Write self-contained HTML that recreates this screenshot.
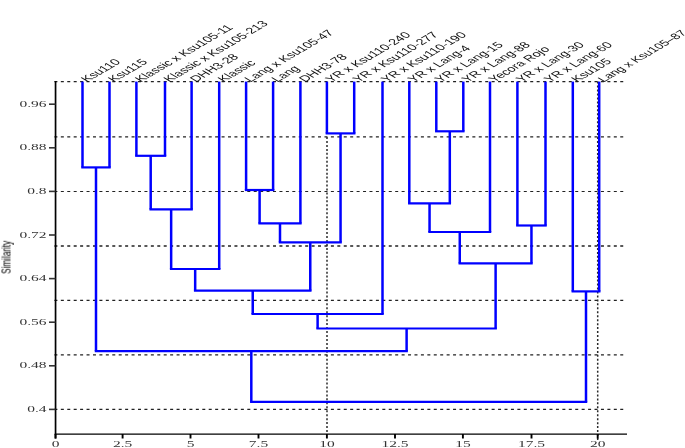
<!DOCTYPE html>
<html><head><meta charset="utf-8"><style>
html,body{margin:0;padding:0;background:#fff;width:685px;height:448px;overflow:hidden}
svg{display:block}
.tx{will-change:opacity;opacity:0.999}
.lb{font-family:"Liberation Sans",sans-serif;font-size:8.6px;fill:#111}
.yt{font-family:"Liberation Serif",serif;font-size:8.6px;fill:#333}
.xt{font-family:"Liberation Serif",serif;font-size:8.6px;fill:#333}
.sim{font-family:"Liberation Sans",sans-serif;font-size:8.2px;fill:#000}
</style></head><body>
<svg width="685" height="448" viewBox="0 0 685 448">
<rect width="685" height="448" fill="#fff"/>
<g stroke="#222" stroke-width="1.2" stroke-dasharray="3 3.43" fill="none">
<line x1="54.4" y1="81.6" x2="624" y2="81.6"/>
<line x1="54.4" y1="136.9" x2="624" y2="136.9"/>
<line x1="54.4" y1="191.5" x2="624" y2="191.5"/>
<line x1="54.4" y1="246.0" x2="624" y2="246.0" stroke-width="1.7"/>
<line x1="54.4" y1="300.4" x2="624" y2="300.4"/>
<line x1="54.4" y1="354.8" x2="624" y2="354.8"/>
<line x1="54.4" y1="409.3" x2="624" y2="409.3"/>
</g>
<g stroke="#2a2a2a" stroke-width="1.5" stroke-dasharray="2 1.96" fill="none">
<line x1="327.0" y1="137" x2="327.0" y2="434"/>
<line x1="597.7" y1="81.6" x2="597.7" y2="440"/>
</g>
<g stroke="#000" fill="none">
<line x1="55.55" y1="81" x2="55.55" y2="438.5" stroke-width="1.7"/>
<line x1="54.7" y1="434.2" x2="627" y2="434.2" stroke-width="1.3"/>
</g>
<g stroke="#333" stroke-width="1.6">
<line x1="49" y1="104.20" x2="55.5" y2="104.20"/>
<line x1="49" y1="147.80" x2="55.5" y2="147.80"/>
<line x1="49" y1="191.40" x2="55.5" y2="191.40"/>
<line x1="49" y1="235.00" x2="55.5" y2="235.00"/>
<line x1="49" y1="278.60" x2="55.5" y2="278.60"/>
<line x1="49" y1="322.20" x2="55.5" y2="322.20"/>
<line x1="49" y1="365.80" x2="55.5" y2="365.80"/>
<line x1="49" y1="409.40" x2="55.5" y2="409.40"/>
</g>
<g stroke="#000" stroke-width="1.9">
<line x1="55.5" y1="434" x2="55.5" y2="438.5"/>
<line x1="122.6" y1="434" x2="122.6" y2="438.5"/>
<line x1="190.5" y1="434" x2="190.5" y2="438.5"/>
<line x1="258.5" y1="434" x2="258.5" y2="438.5"/>
<line x1="326.9" y1="434" x2="326.9" y2="438.5"/>
<line x1="395.0" y1="434" x2="395.0" y2="438.5"/>
<line x1="462.9" y1="434" x2="462.9" y2="438.5"/>
<line x1="531.5" y1="434" x2="531.5" y2="438.5"/>
<line x1="597.7" y1="434" x2="597.7" y2="438.5"/>
</g>
<g stroke="#0000ff" fill="none" stroke-linecap="butt">
<line x1="82.5" y1="81.6" x2="82.5" y2="167.4" stroke-width="2.5"/>
<line x1="109.5" y1="81.6" x2="109.5" y2="167.4" stroke-width="2.5"/>
<line x1="81.25" y1="167.4" x2="110.75" y2="167.4" stroke-width="2.2"/>
<line x1="136.4" y1="81.6" x2="136.4" y2="155.8" stroke-width="2.5"/>
<line x1="165.0" y1="81.6" x2="165.0" y2="155.8" stroke-width="2.5"/>
<line x1="135.15" y1="155.8" x2="166.25" y2="155.8" stroke-width="2.2"/>
<line x1="150.7" y1="155.8" x2="150.7" y2="209.3" stroke-width="2.5"/>
<line x1="191.6" y1="81.6" x2="191.6" y2="209.3" stroke-width="2.5"/>
<line x1="149.45" y1="209.3" x2="192.85" y2="209.3" stroke-width="2.2"/>
<line x1="171.14999999999998" y1="209.3" x2="171.14999999999998" y2="269.0" stroke-width="2.5"/>
<line x1="219.2" y1="81.6" x2="219.2" y2="269.0" stroke-width="2.5"/>
<line x1="169.89999999999998" y1="269.0" x2="220.45" y2="269.0" stroke-width="2.2"/>
<line x1="246.1" y1="81.6" x2="246.1" y2="190.0" stroke-width="2.5"/>
<line x1="273.1" y1="81.6" x2="273.1" y2="190.0" stroke-width="2.5"/>
<line x1="244.85" y1="190.0" x2="274.35" y2="190.0" stroke-width="2.2"/>
<line x1="259.6" y1="190.0" x2="259.6" y2="223.4" stroke-width="2.5"/>
<line x1="300.4" y1="81.6" x2="300.4" y2="223.4" stroke-width="2.5"/>
<line x1="258.35" y1="223.4" x2="301.65" y2="223.4" stroke-width="2.2"/>
<line x1="326.9" y1="81.6" x2="326.9" y2="133.4" stroke-width="2.5"/>
<line x1="354.2" y1="81.6" x2="354.2" y2="133.4" stroke-width="2.5"/>
<line x1="325.65" y1="133.4" x2="355.45" y2="133.4" stroke-width="2.2"/>
<line x1="280.0" y1="223.4" x2="280.0" y2="242.3" stroke-width="2.5"/>
<line x1="340.54999999999995" y1="133.4" x2="340.54999999999995" y2="242.3" stroke-width="2.5"/>
<line x1="278.75" y1="242.3" x2="341.79999999999995" y2="242.3" stroke-width="2.2"/>
<line x1="195.17499999999998" y1="269.0" x2="195.17499999999998" y2="290.6" stroke-width="2.5"/>
<line x1="310.275" y1="242.3" x2="310.275" y2="290.6" stroke-width="2.5"/>
<line x1="193.92499999999998" y1="290.6" x2="311.525" y2="290.6" stroke-width="2.2"/>
<line x1="252.72499999999997" y1="290.6" x2="252.72499999999997" y2="314.0" stroke-width="2.5"/>
<line x1="382.5" y1="81.6" x2="382.5" y2="314.0" stroke-width="2.5"/>
<line x1="251.47499999999997" y1="314.0" x2="383.75" y2="314.0" stroke-width="2.2"/>
<line x1="436.3" y1="81.6" x2="436.3" y2="131.3" stroke-width="2.5"/>
<line x1="463.3" y1="81.6" x2="463.3" y2="131.3" stroke-width="2.5"/>
<line x1="435.05" y1="131.3" x2="464.55" y2="131.3" stroke-width="2.2"/>
<line x1="409.3" y1="81.6" x2="409.3" y2="203.3" stroke-width="2.5"/>
<line x1="449.8" y1="131.3" x2="449.8" y2="203.3" stroke-width="2.5"/>
<line x1="408.05" y1="203.3" x2="451.05" y2="203.3" stroke-width="2.2"/>
<line x1="429.55" y1="203.3" x2="429.55" y2="232.0" stroke-width="2.5"/>
<line x1="490.0" y1="81.6" x2="490.0" y2="232.0" stroke-width="2.5"/>
<line x1="428.3" y1="232.0" x2="491.25" y2="232.0" stroke-width="2.2"/>
<line x1="517.4" y1="81.6" x2="517.4" y2="225.5" stroke-width="2.5"/>
<line x1="545.5" y1="81.6" x2="545.5" y2="225.5" stroke-width="2.5"/>
<line x1="516.15" y1="225.5" x2="546.75" y2="225.5" stroke-width="2.2"/>
<line x1="459.775" y1="232.0" x2="459.775" y2="263.3" stroke-width="2.5"/>
<line x1="531.45" y1="225.5" x2="531.45" y2="263.3" stroke-width="2.5"/>
<line x1="458.525" y1="263.3" x2="532.7" y2="263.3" stroke-width="2.2"/>
<line x1="317.61249999999995" y1="314.0" x2="317.61249999999995" y2="328.5" stroke-width="2.5"/>
<line x1="495.6125" y1="263.3" x2="495.6125" y2="328.5" stroke-width="2.5"/>
<line x1="316.36249999999995" y1="328.5" x2="496.8625" y2="328.5" stroke-width="2.2"/>
<line x1="96.0" y1="167.4" x2="96.0" y2="351.1" stroke-width="2.5"/>
<line x1="406.61249999999995" y1="328.5" x2="406.61249999999995" y2="351.1" stroke-width="2.5"/>
<line x1="94.75" y1="351.1" x2="407.86249999999995" y2="351.1" stroke-width="2.2"/>
<line x1="572.8" y1="81.6" x2="572.8" y2="291.4" stroke-width="2.5"/>
<line x1="599.2" y1="81.6" x2="599.2" y2="291.4" stroke-width="2.5"/>
<line x1="571.55" y1="291.4" x2="600.45" y2="291.4" stroke-width="2.2"/>
<line x1="251.30624999999998" y1="351.1" x2="251.30624999999998" y2="401.8" stroke-width="2.5"/>
<line x1="586.0" y1="291.4" x2="586.0" y2="401.8" stroke-width="2.5"/>
<line x1="250.05624999999998" y1="401.8" x2="587.25" y2="401.8" stroke-width="2.2"/>
</g>
<g class="tx">
<text transform="translate(46.5,106.80) scale(1.8,1)" text-anchor="end" class="yt">0.96</text>
<text transform="translate(46.5,150.40) scale(1.8,1)" text-anchor="end" class="yt">0.88</text>
<text transform="translate(46.5,194.00) scale(1.8,1)" text-anchor="end" class="yt">0.8</text>
<text transform="translate(46.5,237.60) scale(1.8,1)" text-anchor="end" class="yt">0.72</text>
<text transform="translate(46.5,281.20) scale(1.8,1)" text-anchor="end" class="yt">0.64</text>
<text transform="translate(46.5,324.80) scale(1.8,1)" text-anchor="end" class="yt">0.56</text>
<text transform="translate(46.5,368.40) scale(1.8,1)" text-anchor="end" class="yt">0.48</text>
<text transform="translate(46.5,412.00) scale(1.8,1)" text-anchor="end" class="yt">0.4</text>
<text transform="translate(55.5,447.3) scale(1.8,1)" text-anchor="middle" class="xt">0</text>
<text transform="translate(122.6,447.3) scale(1.8,1)" text-anchor="middle" class="xt">2.5</text>
<text transform="translate(190.5,447.3) scale(1.8,1)" text-anchor="middle" class="xt">5</text>
<text transform="translate(258.5,447.3) scale(1.8,1)" text-anchor="middle" class="xt">7.5</text>
<text transform="translate(326.9,447.3) scale(1.8,1)" text-anchor="middle" class="xt">10</text>
<text transform="translate(395.0,447.3) scale(1.8,1)" text-anchor="middle" class="xt">12.5</text>
<text transform="translate(462.9,447.3) scale(1.8,1)" text-anchor="middle" class="xt">15</text>
<text transform="translate(531.5,447.3) scale(1.8,1)" text-anchor="middle" class="xt">17.5</text>
<text transform="translate(597.7,447.3) scale(1.8,1)" text-anchor="middle" class="xt">20</text>
<text transform="translate(87.0,82.6) scale(1.7,1) rotate(-45)" class="lb">Ksu110</text>
<text transform="translate(114.0,82.6) scale(1.7,1) rotate(-45)" class="lb">Ksu115</text>
<text transform="translate(140.9,82.6) scale(1.7,1) rotate(-45)" class="lb">Klassic x Ksu105-11</text>
<text transform="translate(169.5,82.6) scale(1.7,1) rotate(-45)" class="lb">Klassic x Ksu105-213</text>
<text transform="translate(196.1,82.6) scale(1.7,1) rotate(-45)" class="lb">DHH3-28</text>
<text transform="translate(223.7,82.6) scale(1.7,1) rotate(-45)" class="lb">Klassic</text>
<text transform="translate(250.6,82.6) scale(1.7,1) rotate(-45)" class="lb">Lang x Ksu105-47</text>
<text transform="translate(277.6,82.6) scale(1.7,1) rotate(-45)" class="lb">Lang</text>
<text transform="translate(304.9,82.6) scale(1.7,1) rotate(-45)" class="lb">DHH3-78</text>
<text transform="translate(331.4,82.6) scale(1.7,1) rotate(-45)" class="lb">YR x Ksu110-240</text>
<text transform="translate(358.7,82.6) scale(1.7,1) rotate(-45)" class="lb">YR x Ksu110-277</text>
<text transform="translate(387.0,82.6) scale(1.7,1) rotate(-45)" class="lb">YR x Ksu110-190</text>
<text transform="translate(413.8,82.6) scale(1.7,1) rotate(-45)" class="lb">YR x Lang-4</text>
<text transform="translate(440.8,82.6) scale(1.7,1) rotate(-45)" class="lb">YR x Lang-15</text>
<text transform="translate(467.8,82.6) scale(1.7,1) rotate(-45)" class="lb">YR x Lang-88</text>
<text transform="translate(494.5,82.6) scale(1.7,1) rotate(-45)" class="lb">Yecora Rojo</text>
<text transform="translate(521.9,82.6) scale(1.7,1) rotate(-45)" class="lb">YR x Lang-30</text>
<text transform="translate(550.0,82.6) scale(1.7,1) rotate(-45)" class="lb">YR x Lang-60</text>
<text transform="translate(577.3,82.6) scale(1.7,1) rotate(-45)" class="lb">Ksu105</text>
<text transform="translate(603.7,82.6) scale(1.7,1) rotate(-45)" class="lb" style="font-size:8.35px">Lang x Ksu105&#8211;87</text>
</g>
<text transform="translate(10.3,273.8) scale(1.58,1) rotate(-90)" class="sim tx">Similarity</text>
</svg>
</body></html>
